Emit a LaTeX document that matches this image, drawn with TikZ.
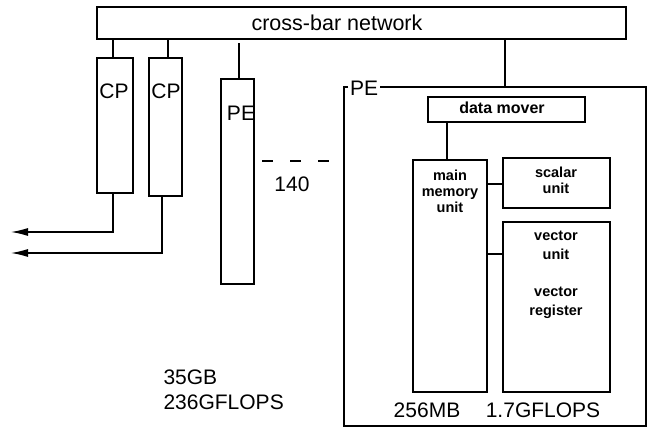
\documentclass[tikz,border=0pt]{standalone}
\usepackage{fontspec}
\setmainfont{Liberation Sans}
\usetikzlibrary{arrows.meta}
\begin{document}
\begin{tikzpicture}[x=1pt,y=-1pt,
  box/.style={draw,line width=1.2pt,inner sep=0pt,outer sep=0pt},
  conn/.style={line width=1.2pt},
  big/.style={font=\fontsize{21}{25}\selectfont},
  small/.style={font=\fontsize{14.5}{16}\bfseries\selectfont,align=center},
  arr/.style={line width=1.2pt,-{Latex[length=17pt,width=8pt]}}]
\useasboundingbox (0,0) rectangle (651,427);
% cross-bar
\node[box,minimum width=529pt,minimum height=32pt,anchor=north west] (xbar) at (97,7) {};
\node[big,font=\fontsize{21.5}{23}\selectfont] (xbart) at (337,23) {cross-bar network};
% CPs
\node[box,minimum width=36pt,minimum height=135pt,anchor=north west] (cp1) at (97,58) {};
\node[box,minimum width=33pt,minimum height=138pt,anchor=north west] (cp2) at (149,58) {};
\node[big,anchor=center] (cp1t) at (114,91) {CP};
\node[big,anchor=center] (cp2t) at (166,91) {CP};
\draw[conn] (cp1.north -| 113,0) -- (xbar.south -| 113,0);
\draw[conn] (cp2.north -| 168,0) -- (xbar.south -| 168,0);
\coordinate (a1) at (11,232);
\coordinate (a2) at (11,253);
\draw[arr] (cp1.south -| 113,0) -- (113,232) -- (a1);
\draw[arr] (cp2.south -| 162,0) -- (162,253) -- (a2);
% small PE
\node[box,minimum width=33pt,minimum height=205pt,anchor=north west] (pe) at (221,79) {};
\node[big,anchor=center] (pet) at (241,113) {PE};
\draw[conn] (pe.north -| 239,0) -- (239,43);
\coordinate (d1) at (262,161);
\coordinate (d2) at (330,161);
\draw[conn,dash pattern=on 11pt off 17pt] (d1) -- (d2);
\node[big] (n140) at (292,184) {140};
% big PE
\coordinate (pe0) at (344,87);
\node[big,anchor=west,inner sep=2pt] (bigpet) at (348,88) {PE};
\draw[conn] (bigpet.west |- pe0) -- (pe0) -- (344,426) -- (646,426) -- (646,87) -- (bigpet.east |- pe0);
\draw[conn] (505,87) -- (xbar.south -| 505,0);
% inner units
\node[box,minimum width=157pt,minimum height=25pt,anchor=north west] (dm) at (428,97) {};
\node[small,font=\fontsize{16}{18}\bfseries\selectfont] (dmt) at (502,108) {data mover};
\node[box,minimum width=74pt,minimum height=232pt,anchor=north west] (mm) at (413,160) {};
\node[small,anchor=north] (mmt) at (450,166) {main\\memory\\unit};
\node[box,minimum width=107pt,minimum height=50pt,anchor=north west] (su) at (503,158) {};
\node[small,anchor=north] (sut) at (556,163) {scalar\\unit};
\node[box,minimum width=107pt,minimum height=170pt,anchor=north west] (vu) at (503,222) {};
\node[small,anchor=north,font=\fontsize{14.5}{19}\bfseries\selectfont] (vut) at (556,228) {vector\\unit\\[18pt]vector\\register};
\draw[conn] (dm.south -| 447,0) -- (mm.north -| 447,0);
\draw[conn] (mm.east |- 0,184) -- (su.west |- 0,184);
\draw[conn] (mm.east |- 0,254) -- (vu.west |- 0,254);
\node[big] (mb) at (427,410) {256MB};
\node[big] (gf) at (543,410) {1.7GFLOPS};
\node[big,anchor=west,align=left] (tot) at (160,390) {35GB\\236GFLOPS};
\end{tikzpicture}
\end{document}
